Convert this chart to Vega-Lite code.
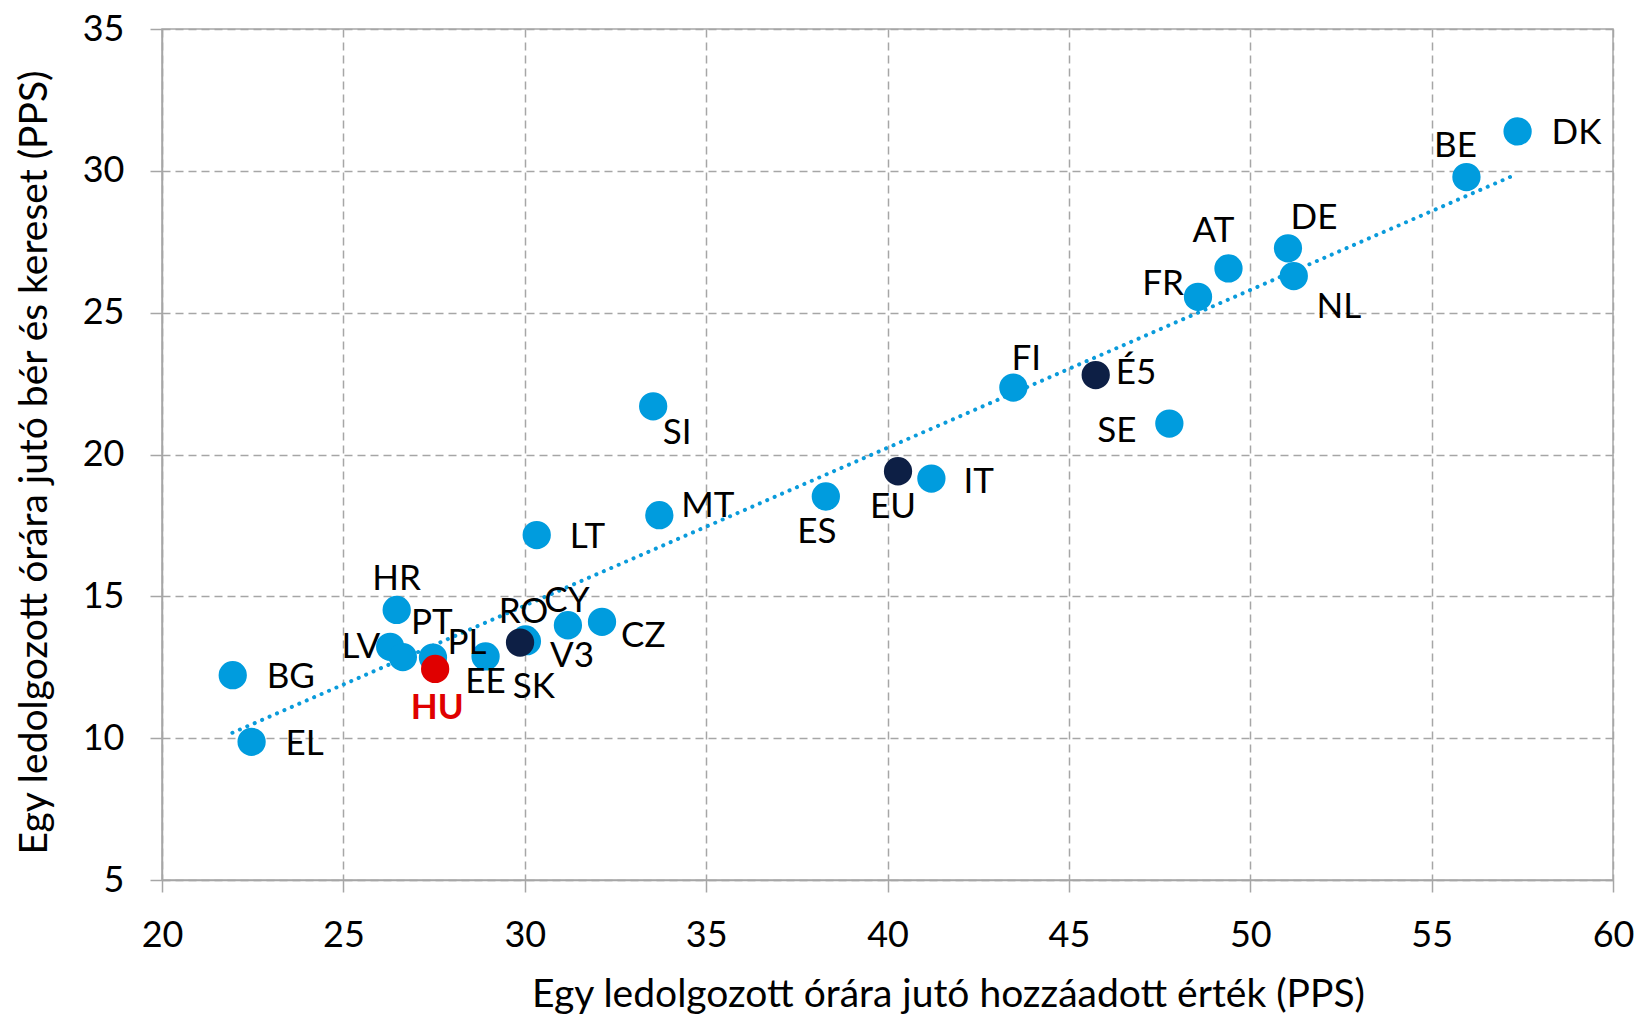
{
  "$schema": "https://vega.github.io/schema/vega-lite/v6.json",
  "width": 1451,
  "height": 851,
  "autosize": {"type": "none"},
  "padding": {"left": 162, "top": 29, "right": 27, "bottom": 136},
  "background": "white",
  "config": {
    "font": "Lato",
    "view": {"stroke": "#A6A6A6", "strokeWidth": 1.5},
    "text": {"fontSize": 35},
    "axis": {
      "labelFont": "Lato", "labelFontSize": 36, "labelColor": "#000000", "labelFlush": false,
      "titleFont": "Lato", "titleFontSize": 39, "titleFontWeight": "normal", "titleColor": "#000000",
      "gridColor": "#A6A6A6", "gridDash": [8, 5], "gridWidth": 1.5,
      "domainColor": "#A6A6A6", "domainWidth": 1.5,
      "tickColor": "#A6A6A6", "tickWidth": 1.5, "tickSize": 12
    }
  },
  "datasets": {
    "pontok": [
      {"orszag": "BG", "hozzaadott": 21.95, "kereset": 12.22, "tipus": "ország"},
      {"orszag": "EL", "hozzaadott": 22.47, "kereset": 9.87, "tipus": "ország"},
      {"orszag": "HR", "hozzaadott": 26.47, "kereset": 14.52, "tipus": "ország"},
      {"orszag": "LV", "hozzaadott": 26.29, "kereset": 13.22, "tipus": "ország"},
      {"orszag": "PT", "hozzaadott": 26.64, "kereset": 12.86, "tipus": "ország"},
      {"orszag": "PL", "hozzaadott": 27.47, "kereset": 12.84, "tipus": "ország"},
      {"orszag": "EE", "hozzaadott": 28.92, "kereset": 12.88, "tipus": "ország"},
      {"orszag": "RO", "hozzaadott": 30.02, "kereset": 13.48, "tipus": "ország"},
      {"orszag": "SK", "hozzaadott": 30.06, "kereset": 13.42, "tipus": "ország"},
      {"orszag": "CY", "hozzaadott": 31.19, "kereset": 13.98, "tipus": "ország"},
      {"orszag": "CZ", "hozzaadott": 32.13, "kereset": 14.10, "tipus": "ország"},
      {"orszag": "LT", "hozzaadott": 30.33, "kereset": 17.16, "tipus": "ország"},
      {"orszag": "SI", "hozzaadott": 33.54, "kereset": 21.70, "tipus": "ország"},
      {"orszag": "MT", "hozzaadott": 33.71, "kereset": 17.86, "tipus": "ország"},
      {"orszag": "ES", "hozzaadott": 38.30, "kereset": 18.52, "tipus": "ország"},
      {"orszag": "IT", "hozzaadott": 41.21, "kereset": 19.15, "tipus": "ország"},
      {"orszag": "FI", "hozzaadott": 43.47, "kereset": 22.36, "tipus": "ország"},
      {"orszag": "SE", "hozzaadott": 47.77, "kereset": 21.09, "tipus": "ország"},
      {"orszag": "FR", "hozzaadott": 48.56, "kereset": 25.56, "tipus": "ország"},
      {"orszag": "AT", "hozzaadott": 49.40, "kereset": 26.56, "tipus": "ország"},
      {"orszag": "DE", "hozzaadott": 51.04, "kereset": 27.27, "tipus": "ország"},
      {"orszag": "NL", "hozzaadott": 51.20, "kereset": 26.29, "tipus": "ország"},
      {"orszag": "BE", "hozzaadott": 55.96, "kereset": 29.78, "tipus": "ország"},
      {"orszag": "DK", "hozzaadott": 57.37, "kereset": 31.39, "tipus": "ország"},
      {"orszag": "V3", "hozzaadott": 29.87, "kereset": 13.37, "tipus": "átlag"},
      {"orszag": "EU", "hozzaadott": 40.29, "kereset": 19.41, "tipus": "átlag"},
      {"orszag": "É5", "hozzaadott": 45.74, "kereset": 22.80, "tipus": "átlag"},
      {"orszag": "HU", "hozzaadott": 27.53, "kereset": 12.44, "tipus": "HU"}
    ],
    "trend": [
      {"hozzaadott": 21.94, "kereset": 10.19},
      {"hozzaadott": 57.30, "kereset": 29.86}
    ]
  },
  "encoding": {
    "x": {
      "field": "hozzaadott", "type": "quantitative",
      "scale": {"domain": [20, 60], "nice": false, "zero": false},
      "axis": {"values": [20, 25, 30, 35, 40, 45, 50, 55, 60], "title": "Egy ledolgozott órára jutó hozzáadott érték (PPS)", "labelPadding": 26, "titlePadding": 22, "titleX": 786, "titleAlign": "center"}
    },
    "y": {
      "field": "kereset", "type": "quantitative",
      "scale": {"domain": [5, 35], "nice": false, "zero": false},
      "axis": {"values": [5, 10, 15, 20, 25, 30, 35], "title": "Egy ledolgozott órára jutó bér és kereset (PPS)", "labelPadding": 26, "titlePadding": 28, "titleY": 433, "titleAlign": "center"}
    }
  },
  "layer": [
    {
      "data": {"name": "trend"},
      "mark": {"type": "line", "color": "#0A9BDB", "strokeWidth": 4, "strokeDash": [0.1, 8], "strokeCap": "round"}
    },
    {
      "data": {"name": "pontok"},
      "layer": [
        {
          "mark": {"type": "point", "filled": true, "size": 800, "opacity": 1, "shape": "circle"},
          "encoding": {
            "color": {
              "field": "tipus", "type": "nominal", "legend": null,
              "scale": {"domain": ["ország", "átlag", "HU"], "range": ["#009CDE", "#0D1F45", "#E00000"]}
            }
          }
        },
        {"transform": [{"filter": "datum.orszag === 'BG'"}], "mark": {"type": "text", "align": "left", "baseline": "middle", "dx": 34, "dy": 2}, "encoding": {"text": {"field": "orszag"}}},
        {"transform": [{"filter": "datum.orszag === 'EL'"}], "mark": {"type": "text", "align": "left", "baseline": "middle", "dx": 34, "dy": 2}, "encoding": {"text": {"field": "orszag"}}},
        {"transform": [{"filter": "datum.orszag === 'LT'"}], "mark": {"type": "text", "align": "left", "baseline": "middle", "dx": 33, "dy": 2}, "encoding": {"text": {"field": "orszag"}}},
        {"transform": [{"filter": "datum.orszag === 'IT'"}], "mark": {"type": "text", "align": "left", "baseline": "middle", "dx": 32, "dy": 3}, "encoding": {"text": {"field": "orszag"}}},
        {"transform": [{"filter": "datum.orszag === 'DK'"}], "mark": {"type": "text", "align": "left", "baseline": "middle", "dx": 34, "dy": 2}, "encoding": {"text": {"field": "orszag"}}},
        {"transform": [{"filter": "datum.orszag === 'É5'"}], "mark": {"type": "text", "align": "left", "baseline": "middle", "dx": 20, "dy": -2}, "encoding": {"text": {"field": "orszag"}}},
        {"transform": [{"filter": "datum.orszag === 'CZ'"}], "mark": {"type": "text", "align": "left", "baseline": "middle", "dx": 19, "dy": 14}, "encoding": {"text": {"field": "orszag"}}},
        {"transform": [{"filter": "datum.orszag === 'MT'"}], "mark": {"type": "text", "align": "left", "baseline": "middle", "dx": 22, "dy": -9}, "encoding": {"text": {"field": "orszag"}}},
        {"transform": [{"filter": "datum.orszag === 'V3'"}], "mark": {"type": "text", "align": "left", "baseline": "middle", "dx": 30, "dy": 13}, "encoding": {"text": {"field": "orszag"}}},
        {"transform": [{"filter": "datum.orszag === 'LV'"}], "mark": {"type": "text", "align": "right", "baseline": "middle", "dx": -10, "dy": 0}, "encoding": {"text": {"field": "orszag"}}},
        {"transform": [{"filter": "datum.orszag === 'SE'"}], "mark": {"type": "text", "align": "right", "baseline": "middle", "dx": -33, "dy": 7}, "encoding": {"text": {"field": "orszag"}}},
        {"transform": [{"filter": "datum.orszag === 'FR'"}], "mark": {"type": "text", "align": "right", "baseline": "middle", "dx": -14, "dy": -13}, "encoding": {"text": {"field": "orszag"}}},
        {"transform": [{"filter": "datum.orszag === 'HR'"}], "mark": {"type": "text", "align": "center", "baseline": "middle", "dx": 0, "dy": -31}, "encoding": {"text": {"field": "orszag"}}},
        {"transform": [{"filter": "datum.orszag === 'PT'"}], "mark": {"type": "text", "align": "center", "baseline": "middle", "dx": 29, "dy": -34}, "encoding": {"text": {"field": "orszag"}}},
        {"transform": [{"filter": "datum.orszag === 'PL'"}], "mark": {"type": "text", "align": "center", "baseline": "middle", "dx": 34, "dy": -15}, "encoding": {"text": {"field": "orszag"}}},
        {"transform": [{"filter": "datum.orszag === 'RO'"}], "mark": {"type": "text", "align": "center", "baseline": "middle", "dx": -2, "dy": -27}, "encoding": {"text": {"field": "orszag"}}},
        {"transform": [{"filter": "datum.orszag === 'CY'"}], "mark": {"type": "text", "align": "center", "baseline": "middle", "dx": -1, "dy": -24}, "encoding": {"text": {"field": "orszag"}}},
        {"transform": [{"filter": "datum.orszag === 'FI'"}], "mark": {"type": "text", "align": "center", "baseline": "middle", "dx": 13, "dy": -29}, "encoding": {"text": {"field": "orszag"}}},
        {"transform": [{"filter": "datum.orszag === 'AT'"}], "mark": {"type": "text", "align": "center", "baseline": "middle", "dx": -15, "dy": -37}, "encoding": {"text": {"field": "orszag"}}},
        {"transform": [{"filter": "datum.orszag === 'DE'"}], "mark": {"type": "text", "align": "center", "baseline": "middle", "dx": 26, "dy": -30}, "encoding": {"text": {"field": "orszag"}}},
        {"transform": [{"filter": "datum.orszag === 'BE'"}], "mark": {"type": "text", "align": "center", "baseline": "middle", "dx": -11, "dy": -31}, "encoding": {"text": {"field": "orszag"}}},
        {"transform": [{"filter": "datum.orszag === 'NL'"}], "mark": {"type": "text", "align": "center", "baseline": "middle", "dx": 45, "dy": 31}, "encoding": {"text": {"field": "orszag"}}},
        {"transform": [{"filter": "datum.orszag === 'SI'"}], "mark": {"type": "text", "align": "center", "baseline": "middle", "dx": 24, "dy": 27}, "encoding": {"text": {"field": "orszag"}}},
        {"transform": [{"filter": "datum.orszag === 'ES'"}], "mark": {"type": "text", "align": "center", "baseline": "middle", "dx": -9, "dy": 36}, "encoding": {"text": {"field": "orszag"}}},
        {"transform": [{"filter": "datum.orszag === 'EU'"}], "mark": {"type": "text", "align": "center", "baseline": "middle", "dx": -5, "dy": 36}, "encoding": {"text": {"field": "orszag"}}},
        {"transform": [{"filter": "datum.orszag === 'EE'"}], "mark": {"type": "text", "align": "center", "baseline": "middle", "dx": 0, "dy": 26}, "encoding": {"text": {"field": "orszag"}}},
        {"transform": [{"filter": "datum.orszag === 'SK'"}], "mark": {"type": "text", "align": "center", "baseline": "middle", "dx": 7, "dy": 46}, "encoding": {"text": {"field": "orszag"}}},
        {"transform": [{"filter": "datum.orszag === 'HU'"}], "mark": {"type": "text", "align": "center", "baseline": "middle", "dx": 2, "dy": 39, "fontWeight": "bold", "color": "#E00000"}, "encoding": {"text": {"field": "orszag"}}}
      ]
    }
  ]
}
